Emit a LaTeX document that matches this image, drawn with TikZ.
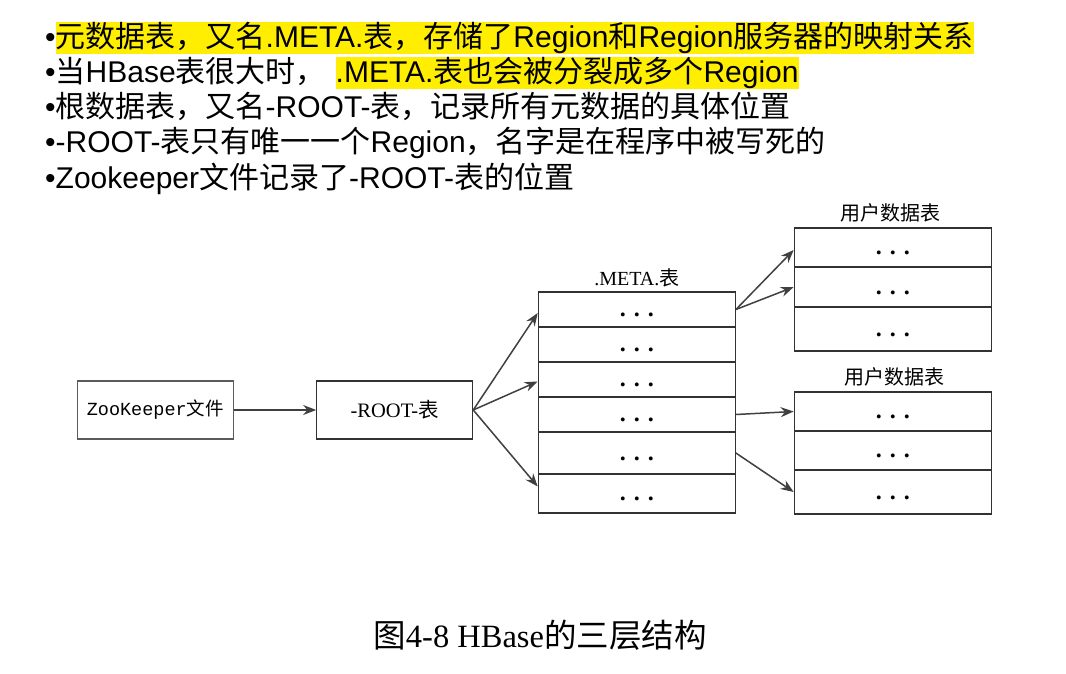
\documentclass[tikz,border=0pt]{standalone}
\usepackage{fontspec}
\usetikzlibrary{arrows.meta,calc}
\setmainfont{Liberation Sans}
\newfontfamily\cjk{Noto Sans CJK SC}
\newfontfamily\serifL{Liberation Serif}
\newfontfamily\monoL{Liberation Mono}
\definecolor{hl}{RGB}{255,238,0}
\definecolor{edge}{RGB}{64,64,64}
\definecolor{boxline}{RGB}{50,50,50}
\setlength{\fboxsep}{0pt}
% yellow marker behind a run of text
\newcommand{\hlbox}[1]{\colorbox{hl}{\rule[-4pt]{0pt}{30pt}#1}}
% three dots in a table cell
\newcommand{\dotrow}{\makebox[14pt]{\textbf{.}}\makebox[14pt]{\textbf{.}}\makebox[14pt]{\textbf{.}}\hspace{8pt}}
\tikzset{
  line/.style={anchor=base west, inner sep=0pt, font=\fontsize{30}{35}\selectfont},
  cell/.style={draw=boxline, line width=1.2pt, minimum width=197pt, inner sep=0pt,
               text height=14pt, text depth=0pt, font=\fontsize{24}{26}\selectfont\serifL},
  plainbox/.style={draw=boxline!80, line width=1.1pt, minimum width=156pt, minimum height=58pt, inner sep=0pt},
  link/.style={draw=edge, line width=1.5pt, -{Stealth[length=13pt,width=10pt]}},
  title/.style={inner sep=0pt, font=\fontsize{20}{24}\selectfont}
}
\begin{document}
\begin{tikzpicture}[x=1pt,y=-1pt]
\useasboundingbox (0,0) rectangle (1066,674);

% bullet list
\node[line] (t1) at (45,48) {•\hlbox{{\cjk 元数据表，又名}.META.{\cjk 表，存储了}Region{\cjk 和}Region{\cjk 服务器的映射关系}}};
\node[line] (t2) at (45,83) {•{\cjk 当}HBase{\cjk 表很大时，}\hspace{10pt}\hlbox{.META.{\cjk 表也会被分裂成多个}Region}};
\node[line] (t3) at (45,118) {•{\cjk 根数据表，又名}-ROOT-{\cjk 表，记录所有元数据的具体位置}};
\node[line] (t4) at (45,153) {•-ROOT-{\cjk 表只有唯一一个}Region{\cjk ，名字是在程序中被写死的}};
\node[line] (t5) at (45,189) {•Zookeeper{\cjk 文件记录了}-ROOT-{\cjk 表的位置}};

% ZooKeeper and -ROOT-
\node[plainbox, font=\fontsize{18.5}{20}\selectfont] (zk) at (155.3,410) {\monoL ZooKeeper{\cjk 文件}};
\node[plainbox, draw=boxline, font=\fontsize{20.5}{24}\selectfont] (root) at (394.7,410) {\serifL -ROOT-{\cjk 表}};

% .META. table
\node[title, anchor=base] (mlab) at (636.8,285) {\serifL .META.{\cjk 表}};
\node[cell, minimum height=35pt] (m1) at (636.8,309.5) {\dotrow};
\node[cell, minimum height=35pt] (m2) at (636.8,344.5) {\dotrow};
\node[cell, minimum height=35pt] (m3) at (636.8,379.5) {\dotrow};
\node[cell, minimum height=35pt] (m4) at (636.8,414.5) {\dotrow};
\node[cell, minimum height=42pt] (m5) at (636.8,453) {\dotrow};
\node[cell, minimum height=39pt] (m6) at (636.8,493.5) {\dotrow};

% user tables
\node[title] (ulab1) at (890.8,212.5) {\cjk 用户数据表};
\node[cell, minimum height=39pt] (u1) at (892.8,247.5) {\dotrow};
\node[cell, minimum height=40pt] (u2) at (892.8,287) {\dotrow};
\node[cell, minimum height=44pt] (u3) at (892.8,329) {\dotrow};

\node[title] (ulab2) at (894,376.5) {\cjk 用户数据表};
\node[cell, minimum height=39pt] (u4) at (892.8,411.5) {\dotrow};
\node[cell, minimum height=39pt] (u5) at (892.8,450.5) {\dotrow};
\node[cell, minimum height=44pt] (u6) at (892.8,492) {\dotrow};

% connectors
\draw[link] (zk.east) -- (root.west);
\draw[link] (root.east) -- ($(m1.west)+(0,3.5)$);
\draw[link] (root.east) -- ($(m3.west)+(0,2)$);
\draw[link] (root.east) -- ($(m6.west)+(0,-7)$);
\draw[link] (m1.east) -- ($(u1.west)+(0,2.5)$);
\draw[link] (m1.east) -- (u2.west);
\draw[link] (m4.east) -- (u4.west);
\draw[link] (m5.east) -- (u6.west);

% caption
\node[anchor=base, inner sep=0pt, font=\fontsize{32.5}{36}\selectfont] (cap) at (540,647)
  {{\cjk 图}\serifL 4-8 HBase{\cjk 的三层结构}};
\end{tikzpicture}
\end{document}
